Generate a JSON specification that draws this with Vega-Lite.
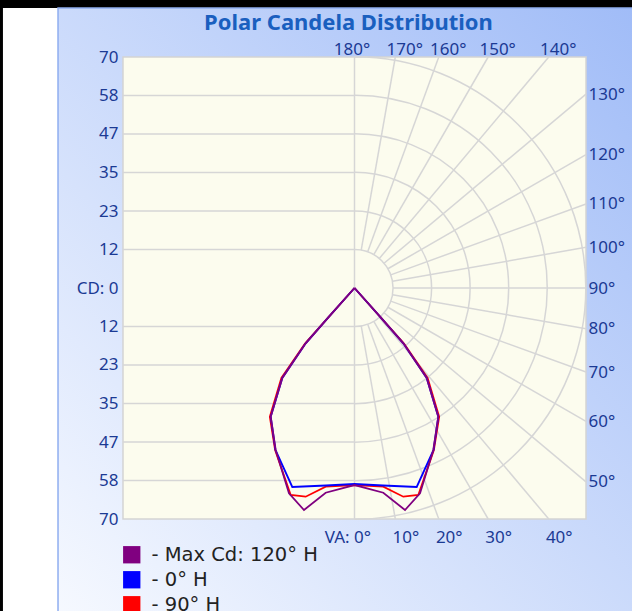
{
  "$schema": "https://vega.github.io/schema/vega-lite/v6.json",
  "width": 463,
  "height": 462,
  "autosize": "none",
  "padding": {"left": 123, "top": 57, "right": 46, "bottom": 92},
  "background": "#000000",
  "title": {"text": "Polar Candela Distribution", "font": "Noto Sans", "fontSize": 22, "fontWeight": "bold", "color": "#1a5fbf", "anchor": "middle", "frame": "group", "dx": -6, "dy": 32, "offset": 4, "zindex": 1},
  "config": {
    "view": {"stroke": null},
    "axis": {"labelFont": "Noto Sans", "labelFontSize": 17, "labelColor": "#1b3a94", "domain": false, "ticks": false, "grid": false, "title": null, "labelOverlap": false, "labelFlush": false, "labelBound": false}
  },
  "datasets": {
    "curves": [
      {"s": "90° H", "o": 0, "x": 0, "y": 0},
      {"s": "90° H", "o": 1, "x": 7.71, "y": -8.7},
      {"s": "90° H", "o": 2, "x": 14.9, "y": -16.76},
      {"s": "90° H", "o": 3, "x": 22.1, "y": -27.27},
      {"s": "90° H", "o": 4, "x": 25.6, "y": -39},
      {"s": "90° H", "o": 5, "x": 24.0, "y": -49.09},
      {"s": "90° H", "o": 6, "x": 19.29, "y": -62.73},
      {"s": "90° H", "o": 7, "x": 14.76, "y": -63.24},
      {"s": "90° H", "o": 8, "x": 8.71, "y": -60.21},
      {"s": "90° H", "o": 9, "x": 0, "y": -59.7},
      {"s": "90° H", "o": 10, "x": -8.71, "y": -60.21},
      {"s": "90° H", "o": 11, "x": -14.76, "y": -63.24},
      {"s": "90° H", "o": 12, "x": -19.29, "y": -62.73},
      {"s": "90° H", "o": 13, "x": -24.0, "y": -49.09},
      {"s": "90° H", "o": 14, "x": -25.6, "y": -39},
      {"s": "90° H", "o": 15, "x": -22.1, "y": -27.27},
      {"s": "90° H", "o": 16, "x": -14.9, "y": -16.76},
      {"s": "90° H", "o": 17, "x": -7.71, "y": -8.7},
      {"s": "90° H", "o": 18, "x": 0, "y": 0},
      {"s": "0° H", "o": 0, "x": 0, "y": 0},
      {"s": "0° H", "o": 1, "x": 7.71, "y": -8.7},
      {"s": "0° H", "o": 2, "x": 14.76, "y": -16.76},
      {"s": "0° H", "o": 3, "x": 21.83, "y": -27.27},
      {"s": "0° H", "o": 4, "x": 25.34, "y": -39},
      {"s": "0° H", "o": 5, "x": 23.9, "y": -49.09},
      {"s": "0° H", "o": 6, "x": 18.81, "y": -60.3},
      {"s": "0° H", "o": 7, "x": 8.62, "y": -59.85},
      {"s": "0° H", "o": 8, "x": 0, "y": -59.39},
      {"s": "0° H", "o": 9, "x": -8.62, "y": -59.85},
      {"s": "0° H", "o": 10, "x": -18.81, "y": -60.3},
      {"s": "0° H", "o": 11, "x": -23.9, "y": -49.09},
      {"s": "0° H", "o": 12, "x": -25.34, "y": -39},
      {"s": "0° H", "o": 13, "x": -21.83, "y": -27.27},
      {"s": "0° H", "o": 14, "x": -14.76, "y": -16.76},
      {"s": "0° H", "o": 15, "x": -7.71, "y": -8.7},
      {"s": "0° H", "o": 16, "x": 0, "y": 0},
      {"s": "Max Cd: 120° H", "o": 0, "x": 0, "y": 0},
      {"s": "Max Cd: 120° H", "o": 1, "x": 7.71, "y": -8.7},
      {"s": "Max Cd: 120° H", "o": 2, "x": 14.76, "y": -16.76},
      {"s": "Max Cd: 120° H", "o": 3, "x": 21.83, "y": -27.27},
      {"s": "Max Cd: 120° H", "o": 4, "x": 25.34, "y": -39},
      {"s": "Max Cd: 120° H", "o": 5, "x": 23.83, "y": -49.09},
      {"s": "Max Cd: 120° H", "o": 6, "x": 19.81, "y": -62.21},
      {"s": "Max Cd: 120° H", "o": 7, "x": 15.27, "y": -67.27},
      {"s": "Max Cd: 120° H", "o": 8, "x": 8.71, "y": -62.03},
      {"s": "Max Cd: 120° H", "o": 9, "x": 0, "y": -59.7},
      {"s": "Max Cd: 120° H", "o": 10, "x": -8.71, "y": -62.03},
      {"s": "Max Cd: 120° H", "o": 11, "x": -15.27, "y": -67.27},
      {"s": "Max Cd: 120° H", "o": 12, "x": -19.81, "y": -62.21},
      {"s": "Max Cd: 120° H", "o": 13, "x": -23.83, "y": -49.09},
      {"s": "Max Cd: 120° H", "o": 14, "x": -25.34, "y": -39},
      {"s": "Max Cd: 120° H", "o": 15, "x": -21.83, "y": -27.27},
      {"s": "Max Cd: 120° H", "o": 16, "x": -14.76, "y": -16.76},
      {"s": "Max Cd: 120° H", "o": 17, "x": -7.71, "y": -8.7},
      {"s": "Max Cd: 120° H", "o": 18, "x": 0, "y": 0}
    ],
    "arcs": [{"r": 11.667}, {"r": 23.333}, {"r": 35}, {"r": 46.667}, {"r": 58.333}, {"r": 70}],
    "hl": [{"y": -58.333}, {"y": -46.667}, {"y": -35}, {"y": -23.333}, {"y": -11.667}, {"y": 11.667}, {"y": 23.333}, {"y": 35}, {"y": 46.667}, {"y": 58.333}],
    "spokes": [
      {"va": 10, "x": 2.026, "y": -11.489, "x2": 12.343, "y2": -70},
      {"va": 20, "x": 3.99, "y": -10.963, "x2": 25.478, "y2": -70},
      {"va": 30, "x": 5.833, "y": -10.104, "x2": 40.415, "y2": -70},
      {"va": 40, "x": 7.499, "y": -8.937, "x2": 58.737, "y2": -70},
      {"va": 50, "x": 8.937, "y": -7.499, "x2": 70, "y2": -58.737},
      {"va": 60, "x": 10.104, "y": -5.833, "x2": 70, "y2": -40.415},
      {"va": 70, "x": 10.963, "y": -3.99, "x2": 70, "y2": -25.478},
      {"va": 80, "x": 11.489, "y": -2.026, "x2": 70, "y2": -12.343},
      {"va": 90, "x": 11.667, "y": 0, "x2": 70, "y2": 0},
      {"va": 100, "x": 11.489, "y": 2.026, "x2": 70, "y2": 12.343},
      {"va": 110, "x": 10.963, "y": 3.99, "x2": 70, "y2": 25.478},
      {"va": 120, "x": 10.104, "y": 5.833, "x2": 70, "y2": 40.415},
      {"va": 130, "x": 8.937, "y": 7.499, "x2": 70, "y2": 58.737},
      {"va": 140, "x": 7.499, "y": 8.937, "x2": 58.737, "y2": 70},
      {"va": 150, "x": 5.833, "y": 10.104, "x2": 40.415, "y2": 70},
      {"va": 160, "x": 3.99, "y": 10.963, "x2": 25.478, "y2": 70},
      {"va": 170, "x": 2.026, "y": 11.489, "x2": 12.343, "y2": 70}
    ],
    "keys": [{"s": "Max Cd: 120° H"}, {"s": "0° H"}, {"s": "90° H"}],
    "one": [{}]
  },
  "layer": [
    {
      "data": {"name": "keys"},
      "mark": {"type": "square", "filled": true, "size": 300, "opacity": 1},
      "encoding": {
        "x": {"datum": 0, "type": "quantitative", "axis": null, "scale": {"domain": [-70, 70], "nice": false, "zero": false}},
        "y": {"datum": 0, "type": "quantitative", "axis": null, "scale": {"domain": [-70, 70], "nice": false, "zero": false}},
        "color": {
          "field": "s", "type": "nominal",
          "scale": {"domain": ["Max Cd: 120° H", "0° H", "90° H"], "range": ["#800080", "#0000ff", "#ff0000"]},
          "legend": {"orient": "none", "legendX": -1, "legendY": 488, "title": null, "symbolType": "square", "symbolSize": 300, "symbolStrokeWidth": 0, "symbolOpacity": 1, "labelFont": "DejaVu Sans", "labelFontSize": 19.5, "labelColor": "#222222", "labelOffset": 10, "rowPadding": 4, "labelLimit": 400, "labelExpr": "'- ' + datum.label", "zindex": 1}
        }
      }
    },
    {
      "data": {"name": "one"},
      "mark": {"type": "rect", "fill": "#ffffff"},
      "encoding": {
        "x": {"datum": -106.3, "type": "quantitative", "axis": null},
        "x2": {"datum": -89.65},
        "y": {"datum": 84.85, "type": "quantitative", "axis": null},
        "y2": {"datum": -100}
      }
    },
    {
      "data": {"name": "one"},
      "mark": {"type": "rect", "fill": {"gradient": "linear", "x1": 0, "y1": 1, "x2": 1, "y2": 0, "stops": [{"offset": 0, "color": "#f6f9ff"}, {"offset": 1, "color": "#9fbbf7"}]}, "stroke": "#90aef0", "strokeWidth": 1.5},
      "encoding": {
        "x": {"datum": -89.65, "type": "quantitative", "axis": null},
        "x2": {"datum": 90},
        "y": {"datum": 84.85, "type": "quantitative", "axis": null},
        "y2": {"datum": -100}
      }
    },
    {
      "data": {"name": "one"},
      "mark": {"type": "rect", "fill": "#fcfcee", "stroke": "#d4d4d4", "strokeWidth": 1.5},
      "encoding": {
        "x": {"datum": -70, "type": "quantitative", "axis": null},
        "x2": {"datum": 70},
        "y": {"datum": -70, "type": "quantitative", "axis": null},
        "y2": {"datum": 70}
      }
    },
    {
      "data": {"name": "hl"},
      "mark": {"type": "rule", "color": "#d6d6d6", "strokeWidth": 1.5},
      "encoding": {
        "x": {"datum": -70, "type": "quantitative", "axis": null},
        "x2": {"datum": 0},
        "y": {"field": "y", "type": "quantitative", "axis": null}
      }
    },
    {
      "data": {"name": "one"},
      "mark": {"type": "rule", "color": "#d6d6d6", "strokeWidth": 1.5},
      "encoding": {
        "x": {"datum": 0, "type": "quantitative", "axis": null},
        "y": {"datum": -70, "type": "quantitative", "axis": null},
        "y2": {"datum": 70}
      }
    },
    {
      "data": {"name": "arcs"},
      "mark": {"type": "arc", "filled": false, "theta": 0, "theta2": 3.14159265, "stroke": "#d6d6d6", "strokeWidth": 1.5},
      "encoding": {
        "x": {"datum": 0, "type": "quantitative", "axis": null},
        "y": {"datum": 0, "type": "quantitative", "axis": null},
        "radius": {"field": "r", "type": "quantitative", "scale": {"type": "linear", "domain": [0, 70], "range": [0, 231.3], "zero": true, "nice": false}},
        "radius2": {"field": "r"}
      }
    },
    {
      "data": {"name": "spokes"},
      "mark": {"type": "rule", "color": "#d6d6d6", "strokeWidth": 1.5},
      "encoding": {
        "x": {"field": "x", "type": "quantitative", "axis": {"orient": "top", "zindex": 2, "values": [0, 12.343, 25.478, 40.415, 58.737], "labelExpr": "format(180 - atan(datum.value/70)*180/PI, '.0f') + '°'", "labelBaseline": "alphabetic", "labelPadding": 3, "labelAlign": "center", "labelOffset": {"condition": {"test": "datum.value == 0", "value": -3}, "value": 9}}},
        "x2": {"field": "x2"},
        "y": {"field": "y", "type": "quantitative", "axis": {"orient": "right", "zindex": 2, "values": [-58.737, -40.415, -25.478, -12.343, 0, 12.343, 25.478, 40.415, 58.737], "labelExpr": "format(90 + atan(datum.value/70)*180/PI, '.0f') + '°'", "labelPadding": 2, "labelAlign": "left"}},
        "y2": {"field": "y2"}
      }
    },
    {
      "data": {"name": "curves"},
      "mark": {"type": "line", "strokeWidth": 1.8},
      "encoding": {
        "x": {"field": "x", "type": "quantitative", "scale": {"domain": [-70, 70], "nice": false, "zero": false}, "axis": {"orient": "bottom", "zindex": 2, "values": [0, 12.343, 25.478, 40.415, 58.737], "labelExpr": "datum.value == 0 ? 'VA: 0°' : format(atan(datum.value/70)*180/PI, '.0f') + '°'", "labelBaseline": "top", "labelPadding": 10, "labelAlign": {"condition": {"test": "datum.value == 0", "value": "right"}, "value": "center"}, "labelOffset": {"condition": {"test": "datum.value == 0", "value": 16}, "value": 10}}},
        "y": {"field": "y", "type": "quantitative", "scale": {"domain": [-70, 70], "nice": false, "zero": false}, "axis": {"orient": "left", "zindex": 2, "values": [-70, -58.333, -46.667, -35, -23.333, -11.667, 0, 11.667, 23.333, 35, 46.667, 58.333, 70], "labelExpr": "datum.value == 0 ? 'CD: 0' : format(abs(datum.value), '.0f')", "labelPadding": 5, "labelAlign": "right"}},
        "color": {"field": "s", "type": "nominal", "legend": null},
        "detail": {"field": "s"},
        "order": {"field": "o", "type": "quantitative"}
      }
    }
  ],
  "resolve": {"axis": {"x": "independent", "y": "independent"}}
}
